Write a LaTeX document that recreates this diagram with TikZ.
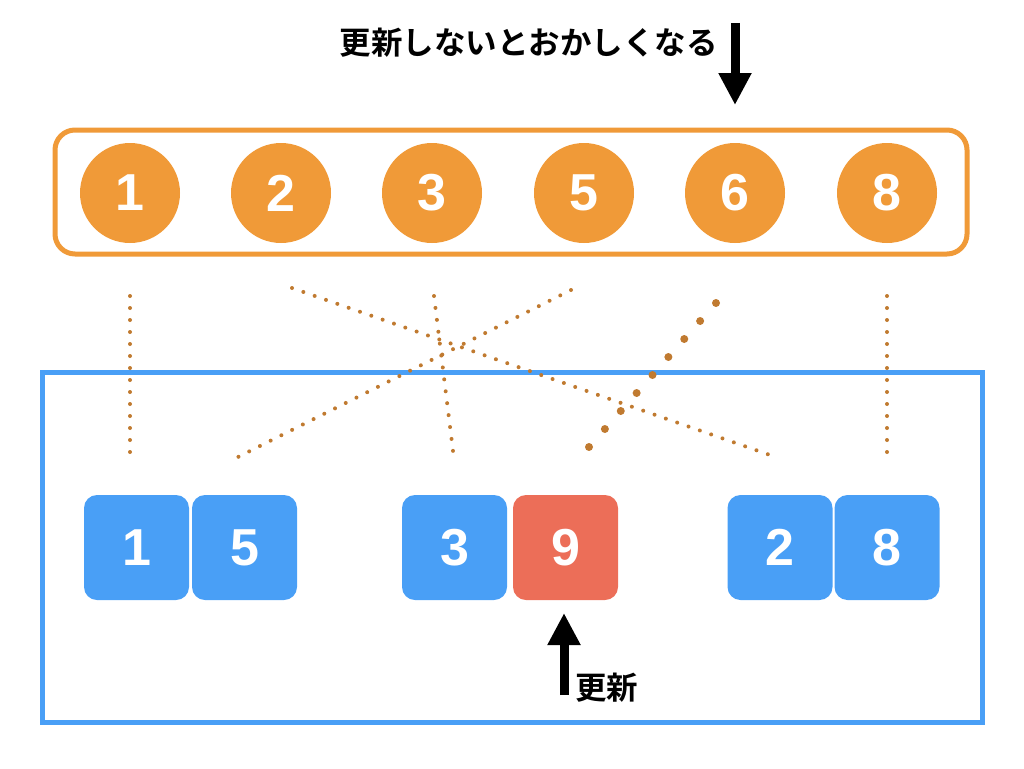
\documentclass[tikz,border=0pt]{standalone}
\usepackage{fontspec}
\usepackage{tikz}
\usetikzlibrary{arrows.meta}
\newfontfamily\cjk{Noto Sans CJK JP}[BoldFont={Noto Sans CJK JP Bold}]
\newfontfamily\numfont{Liberation Sans}
\definecolor{ballorange}{HTML}{F09A38}
\definecolor{cellblue}{HTML}{499FF6}
\definecolor{cellred}{HTML}{EC6E58}
\definecolor{dotbrown}{HTML}{C07A30}

\begin{document}
\begin{tikzpicture}[x=1pt,y=-1pt,
  ball/.style={circle,fill=ballorange,minimum size=100pt,inner sep=0pt,text=white,
    font=\numfont\bfseries\fontsize{52}{52}\selectfont},
  cell/.style={rounded corners=13pt,fill=cellblue,minimum width=105pt,minimum height=105pt,
    inner sep=0pt,text=white,font=\numfont\bfseries\fontsize{52}{52}\selectfont},
  link/.style={dotbrown,line width=4pt,line cap=round,dash pattern=on 0pt off 12pt},
  biglink/.style={dotbrown,line width=8pt,line cap=round,dash pattern=on 0pt off 24pt},
  bigarrow/.style={line width=9pt,-{Triangle[width=31pt,length=32pt]}},
  note/.style={inner sep=0pt,font=\cjk\bfseries\fontsize{31.5}{31.5}\selectfont}]
\useasboundingbox (0,0) rectangle (1024,768);

% top row
\draw[ballorange,line width=5pt,rounded corners=20pt] (55,130) rectangle (967,254);
\foreach \n/\x in {1/130,2/281,3/432,5/584,6/735,8/887}
  \node[ball] (c\n) at (\x,193) {\n};

% bottom
\draw[cellblue,line width=5pt] (42.5,372.5) rectangle (982.5,722.5);
\node[cell] (b1) at (136.5,547.5) {1};
\node[cell] (b5) at (244.5,547.5) {5};
\node[cell] (b3) at (454.5,547.5) {3};
\node[cell,fill=cellred] (b9) at (565.5,547.5) {9};
\node[cell] (b2) at (780,547.5) {2};
\node[cell] (b8) at (887,547.5) {8};

% dotted links
\coordinate (s1) at (130,296); \coordinate (t1) at (130,453);
\coordinate (s2) at (292,288); \coordinate (t2) at (770,455);
\coordinate (s3) at (434,296); \coordinate (t3) at (453,451);
\coordinate (s5) at (571,290); \coordinate (t5) at (238,457);
\coordinate (s6) at (716,303); \coordinate (t6) at (589,447);
\coordinate (s8) at (887,296); \coordinate (t8) at (887,455);
\foreach \n in {1,2,3,5,8}
  \draw[link] (s\n) -- (t\n);
\draw[biglink] (s6) -- (t6);

% arrows and notes
\coordinate (a1) at (735,23); \coordinate (a2) at (735,105);
\draw[bigarrow] (a1) -- (a2);
\node[note,anchor=east] (warn) at (718,43) {更新しないとおかしくなる};
\coordinate (u1) at (564,695); \coordinate (u2) at (564,613);
\draw[bigarrow] (u1) -- (u2);
\node[note,anchor=west] (upd) at (575,688) {更新};
\end{tikzpicture}
\end{document}
